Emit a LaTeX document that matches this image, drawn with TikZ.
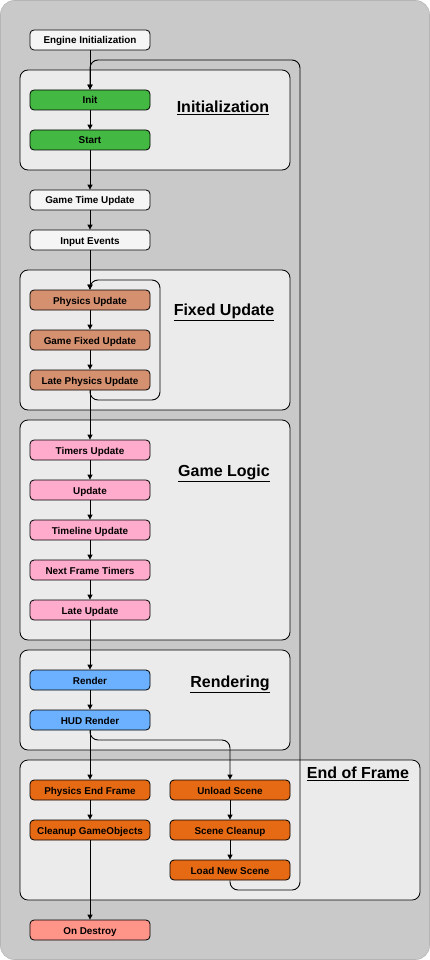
\documentclass[tikz,border=0pt]{standalone}
\usepackage{fontspec}
\setmainfont{Liberation Sans}
\usetikzlibrary{arrows.meta}
\definecolor{bgc}{HTML}{C9C9C9}
\definecolor{grpfill}{HTML}{EBEBEB}
\definecolor{engc}{HTML}{F5F5F5}
\definecolor{greenc}{HTML}{43B843}
\definecolor{brownc}{HTML}{D4906F}
\definecolor{pinkc}{HTML}{FFABCB}
\definecolor{bluec}{HTML}{6CB1FF}
\definecolor{orangec}{HTML}{E66A14}
\definecolor{destc}{HTML}{FF9488}
\begin{document}
\begin{tikzpicture}[x=1pt,y=-1pt,
  stepbox/.style={draw=black,line width=0.8pt,rounded corners=4pt,minimum width=120pt,minimum height=20pt,inner sep=0pt,text height=8pt,text depth=0pt,font=\fontsize{9.9}{11}\selectfont\bfseries},
  grp/.style={draw=black,line width=0.8pt,fill=grpfill,rounded corners=8pt},
  grplabel/.style={font=\fontsize{16}{18}\selectfont\bfseries},
  arr/.style={-{Triangle[length=5pt,width=5pt]},line width=0.9pt},
  loop/.style={arr,rounded corners=8pt}
]
\useasboundingbox (0,0) rectangle (430,960);
\fill[white] (0,0) rectangle (430,960);
\draw[fill=bgc,draw=bgc!90!black,line width=0.6pt,rounded corners=14pt] (0.5,0.5) rectangle (429.5,959.5);

% groups
\draw[grp] (20,70) rectangle (290,170);
\draw[grp] (20,270) rectangle (290,410);
\draw[grp] (20,420) rectangle (290,640);
\draw[grp] (20,650) rectangle (290,750);
\draw[grp] (20,760) rectangle (420,900);

\node[grplabel] (lInit) at (223,107.5) {\underline{Initialization}};
\node[grplabel] (lFixed) at (224,312.5) {\underline{Fixed Update}};
\node[grplabel] (lLogic) at (224,473.5) {\underline{Game Logic}};
\node[grplabel] (lRender) at (230,684.5) {\underline{Rendering}};
\node[grplabel] (lEnd) at (358,773.5) {\underline{End of Frame}};

% nodes
\node[stepbox,fill=engc] (eng) at (90,40) {Engine Initialization};
\node[stepbox,fill=greenc] (init) at (90,100) {Init};
\node[stepbox,fill=greenc] (start) at (90,140) {Start};
\node[stepbox,fill=engc] (gtu) at (90,200) {Game Time Update};
\node[stepbox,fill=engc] (inp) at (90,240) {Input Events};
\node[stepbox,fill=brownc] (phys) at (90,300) {Physics Update};
\node[stepbox,fill=brownc] (gfu) at (90,340) {Game Fixed Update};
\node[stepbox,fill=brownc] (lphys) at (90,380) {Late Physics Update};
\node[stepbox,fill=pinkc] (timers) at (90,450) {Timers Update};
\node[stepbox,fill=pinkc] (upd) at (90,490) {Update};
\node[stepbox,fill=pinkc] (tl) at (90,530) {Timeline Update};
\node[stepbox,fill=pinkc] (nft) at (90,570) {Next Frame Timers};
\node[stepbox,fill=pinkc] (lupd) at (90,610) {Late Update};
\node[stepbox,fill=bluec] (rend) at (90,680) {Render};
\node[stepbox,fill=bluec] (hud) at (90,720) {HUD Render};
\node[stepbox,fill=orangec] (pef) at (90,790) {Physics End Frame};
\node[stepbox,fill=orangec] (cgo) at (90,830) {Cleanup GameObjects};
\node[stepbox,fill=orangec] (unl) at (230,790) {Unload Scene};
\node[stepbox,fill=orangec] (scl) at (230,830) {Scene Cleanup};
\node[stepbox,fill=orangec] (lns) at (230,870) {Load New Scene};
\node[stepbox,fill=destc] (dest) at (90,930) {On Destroy};

% loops
\draw[loop] (lns.south) -- (230,890) -- (300,890) -- (300,60) -- (90,60) -- (init.north);
\draw[loop] (lphys.south) -- (90,400) -- (160,400) -- (160,280) -- (90,280) -- (phys.north);
\draw[loop] (hud.south) -- (90,740) -- (230,740) -- (unl.north);

% chain
\draw[arr] (eng) -- (init);
\draw[arr] (init) -- (start);
\draw[arr] (start) -- (gtu);
\draw[arr] (gtu) -- (inp);
\draw[arr] (inp) -- (phys);
\draw[arr] (phys) -- (gfu);
\draw[arr] (gfu) -- (lphys);
\draw[arr] (lphys) -- (timers);
\draw[arr] (timers) -- (upd);
\draw[arr] (upd) -- (tl);
\draw[arr] (tl) -- (nft);
\draw[arr] (nft) -- (lupd);
\draw[arr] (lupd) -- (rend);
\draw[arr] (rend) -- (hud);
\draw[arr] (hud) -- (pef);
\draw[arr] (pef) -- (cgo);
\draw[arr] (cgo) -- (dest);
\draw[arr] (unl) -- (scl);
\draw[arr] (scl) -- (lns);
\end{tikzpicture}
\end{document}
